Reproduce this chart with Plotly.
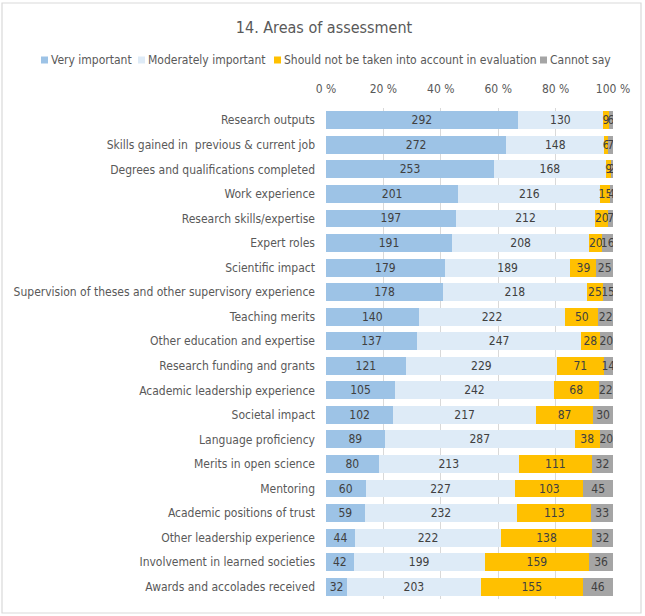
import plotly.graph_objects as go

# data (counts of respondents)
areas = [
    "Research outputs",
    "Skills gained in  previous & current job",
    "Degrees and qualifications completed",
    "Work experience",
    "Research skills/expertise",
    "Expert roles",
    "Scientific impact",
    "Supervision of theses and other supervisory experience",
    "Teaching merits",
    "Other education and expertise",
    "Research funding and grants",
    "Academic leadership experience",
    "Societal impact",
    "Language proficiency",
    "Merits in open science",
    "Mentoring",
    "Academic positions of trust",
    "Other leadership experience",
    "Involvement in learned societies",
    "Awards and accolades received",
]
very_important = [292, 272, 253, 201, 197, 191, 179, 178, 140, 137, 121, 105, 102, 89, 80, 60, 59, 44, 42, 32]
moderately_important = [130, 148, 168, 216, 212, 208, 189, 218, 222, 247, 229, 242, 217, 287, 213, 227, 232, 222, 199, 203]
should_not = [9, 6, 9, 15, 20, 20, 39, 25, 50, 28, 71, 68, 87, 38, 111, 103, 113, 138, 159, 155]
cannot_say = [6, 7, 2, 4, 7, 16, 25, 15, 22, 20, 14, 22, 30, 20, 32, 45, 33, 32, 36, 46]

series_names = ["Very important", "Moderately important",
                "Should not be taken into account in evaluation", "Cannot say"]
colors = ["#9DC3E6", "#DEEBF7", "#FFC000", "#A5A5A5"]

pct_ticks = [0, 20, 40, 60, 80, 100]
pct_labels = ["0 %", "20 %", "40 %", "60 %", "80 %", "100 %"]

W, H = 645, 616
ML, MR, MT, MB = 326, 32, 108, 17
pw = W - ML - MR
ph = H - MT - MB


def px(x):
    return (x - ML) / pw


def py(y):
    return 1 - (y - MT) / ph


fig = go.Figure()
for name, vals, col in zip(series_names,
                           [very_important, moderately_important, should_not, cannot_say],
                           colors):
    fig.add_trace(go.Bar(
        name=name, y=areas, x=vals, orientation="h",
        marker=dict(color=col, line=dict(width=0)),
        text=vals, textposition="inside", insidetextanchor="middle",
        constraintext="none", textangle=0,
        textfont=dict(color="#404040", size=12),
    ))

# chart frame
fig.add_shape(type="rect", xref="paper", yref="paper",
              x0=px(2), x1=px(641), y0=py(613), y1=py(3),
              line=dict(color="#D9D9D9", width=1.2), layer="below")

# legend drawn by hand so it stays on one line like the original
legend_x = [41, 138, 274, 540]
for name, col, lx in zip(series_names, colors, legend_x):
    fig.add_shape(type="rect", xref="paper", yref="paper",
                  x0=px(lx), x1=px(lx + 7), y0=py(63.5), y1=py(56.5),
                  fillcolor=col, line=dict(width=0))
    fig.add_annotation(text=name, xref="paper", yref="paper",
                       x=px(lx + 8), y=py(60), xanchor="left", yanchor="middle",
                       showarrow=False, font=dict(size=12, color="#595959"))

fig.update_layout(
    width=W, height=H,
    margin=dict(l=ML, r=MR, t=MT, b=MB),
    barmode="stack", barnorm="percent", bargap=0.27,
    plot_bgcolor="white", paper_bgcolor="white",
    font=dict(family="Liberation Sans Narrow, DejaVu Sans Condensed, Arial", size=12, color="#595959"),
    title=dict(text="14. Areas of assessment", x=324 / W, xref="container", xanchor="center",
               y=1 - 27 / H, yanchor="middle",
               font=dict(size=16, color="#595959")),
    showlegend=False,
    xaxis=dict(side="top", range=[0, 100], tickvals=pct_ticks, ticktext=pct_labels,
               showgrid=True, gridcolor="#D9D9D9", gridwidth=1,
               zeroline=False, showline=False, ticks="", ticklabelstandoff=12,
               tickfont=dict(size=12, color="#595959")),
    yaxis=dict(autorange="reversed", showgrid=False, ticks="", ticklabelstandoff=10,
               tickfont=dict(size=12, color="#595959")),
)

fig.write_html("out.html", config={"displayModeBar": False},
               post_script="document.body.style.margin='0';")
